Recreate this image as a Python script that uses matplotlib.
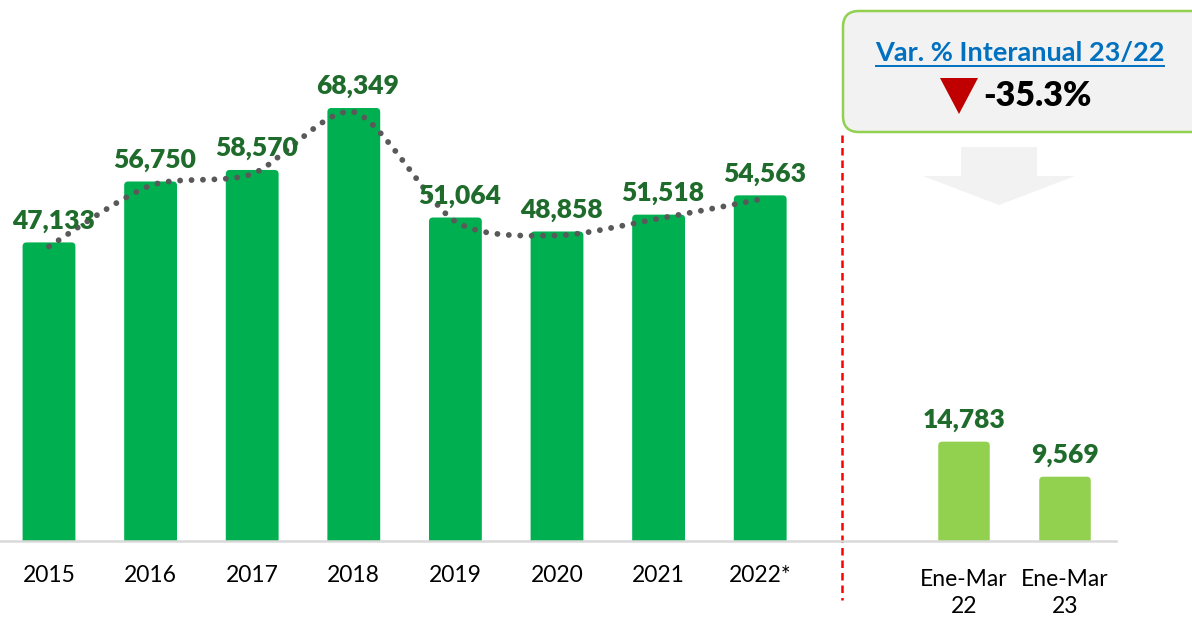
import numpy as np
import matplotlib
matplotlib.use("Agg")
import matplotlib.pyplot as plt
from matplotlib.patches import FancyBboxPatch, Polygon
from matplotlib.path import Path
from matplotlib.patches import PathPatch
from matplotlib import transforms
from matplotlib.lines import Line2D

plt.rcParams["font.family"] = ["Lato", "DejaVu Sans"]

years = ["2015", "2016", "2017", "2018", "2019", "2020", "2021", "2022*"]
annual = [47133, 56750, 58570, 68349, 51064, 48858, 51518, 54563]
quarters = ["Ene-Mar\n22", "Ene-Mar\n23"]
quarter_vals = [14783, 9569]
var_title = "Var. % Interanual 23/22"
var_value = "-35.3%"

GREEN = "#00b050"
LIGHT_GREEN = "#92d050"
LABEL_GREEN = "#1f6b2c"
DOT_GRAY = "#595959"

W, H, DPI = 1192, 617, 100
fig = plt.figure(figsize=(W / DPI, H / DPI), dpi=DPI)


def px_axes(left, right, bottom_px_from_top):
    # axes spanning from the top of the figure down to the baseline
    return fig.add_axes([left / W, (H - bottom_px_from_top) / H,
                         (right - left) / W, bottom_px_from_top / H])


def rounded_bars(ax, xs, vals, width, color, px_x, px_y):
    r = 4.0
    for x, v in zip(xs, vals):
        below = 4.0 / px_y
        p = FancyBboxPatch((x - width / 2, -below), width, v + below,
                           boxstyle=f"round,pad=0,rounding_size={r / px_x}",
                           mutation_aspect=px_x / px_y,
                           facecolor=color, edgecolor="none", zorder=2)
        ax.add_patch(p)


def smooth_path(xs, ys, t=0.4):
    # Excel-like smoothed line through the points (cardinal spline as Bezier)
    pts = np.column_stack([xs, ys]).astype(float)
    verts = [pts[0]]
    codes = [Path.MOVETO]
    n = len(pts)
    for i in range(n - 1):
        p0 = pts[max(i - 1, 0)]
        p1 = pts[i]
        p2 = pts[i + 1]
        p3 = pts[min(i + 2, n - 1)]
        c1 = p1 + (p2 - p0) * t / 3
        c2 = p2 - (p3 - p1) * t / 3
        verts += [c1, c2, p2]
        codes += [Path.CURVE4] * 3
    return Path(verts, codes)


# ---- left panel: annual totals ----
base_y = 541
step = 101.6
x0_px = 49
px_per_unit = 0.006335
left_r = 820
ax = px_axes(0, left_r, base_y)
ax.set_xlim(-x0_px / step, (left_r - x0_px) / step)
ax.set_ylim(0, base_y / px_per_unit)
xs = np.arange(len(years))
rounded_bars(ax, xs, annual, 0.52, GREEN, step, px_per_unit)
for x, v in zip(xs, annual):
    ax.annotate(f"{v:,}", (x, v), xytext=(3, 7), textcoords="offset points",
                ha="center", va="bottom", fontsize=19, fontweight="heavy",
                color=LABEL_GREEN, zorder=5)

# trend line in pixel space so the smoothing is not distorted
disp = ax.transData.transform(np.column_stack([xs, annual]))
trend = smooth_path(disp[:, 0], disp[:, 1] - 4)
ax.add_patch(PathPatch(trend, transform=None, facecolor="none", edgecolor=DOT_GRAY,
                       linewidth=4.2, linestyle=(0, (0.01, 1.95)),
                       capstyle="round", zorder=4))

for x, lab in zip(xs, years):
    ax.text(x, -35 / px_per_unit, lab, ha="center", va="center", fontsize=16.5,
            color="black")
ax.axis("off")

# ---- right panel: first quarter ----
q_step = 101
q_px = 0.00672
r_left, r_right, q0 = 800, 1116, 964
ax2 = px_axes(r_left, r_right, base_y)
ax2.set_xlim(-(q0 - r_left) / q_step, (r_right - q0) / q_step)
ax2.set_ylim(0, base_y / q_px)
qx = np.arange(len(quarters))
rounded_bars(ax2, qx, quarter_vals, 0.51, LIGHT_GREEN, q_step, q_px)
for x, v in zip(qx, quarter_vals):
    ax2.annotate(f"{v:,}", (x, v), xytext=(0, 7), textcoords="offset points",
                 ha="center", va="bottom", fontsize=19, fontweight="heavy",
                 color=LABEL_GREEN)
for x, lab in zip(qx, quarters):
    ax2.text(x, -52 / q_px, lab, ha="center", va="center", fontsize=16.5,
             color="black", linespacing=1.3)
ax2.axis("off")

# ---- figure decorations (pixel coords) ----
pix = transforms.Affine2D().scale(1 / W, -1 / H).translate(0, 1) + fig.transFigure

# baseline
fig.add_artist(Line2D([0, 1116], [541, 541], transform=pix, color="#d9d9d9",
                      linewidth=1.8, zorder=3))
# red separator
fig.add_artist(Line2D([842, 842], [135, 600], transform=pix, color="#ff0000",
                      linewidth=1.8, linestyle=(0, (3, 2))))

# variation box
box = FancyBboxPatch((843, 11), 380, 121, boxstyle="round,pad=0,rounding_size=16",
                     transform=pix, facecolor="#f2f2f2", edgecolor=LIGHT_GREEN,
                     linewidth=1.8)
fig.add_artist(box)
fig.text(1020 / W, 1 - 53 / H, var_title, ha="center", va="center",
         fontsize=19.5, fontweight="bold", color="#0070c0")
fig.add_artist(Line2D([876, 1164], [66, 66], transform=pix, color="#0070c0",
                      linewidth=1.4))
fig.add_artist(Polygon([[940, 78], [978, 78], [959, 114]], closed=True,
                       transform=pix, facecolor="#c00000", edgecolor="none"))
fig.text(1037 / W, 1 - 96 / H, var_value, ha="center", va="center",
         fontsize=24.5, fontweight="heavy", color="black")

# down arrow
fig.add_artist(Polygon([[961, 147], [1037, 147], [1037, 176], [1075, 176],
                        [999, 205], [923, 176], [961, 176]], closed=True,
                       transform=pix, facecolor="#f2f2f2", edgecolor="none"))

fig.savefig("out.png", dpi=DPI)
